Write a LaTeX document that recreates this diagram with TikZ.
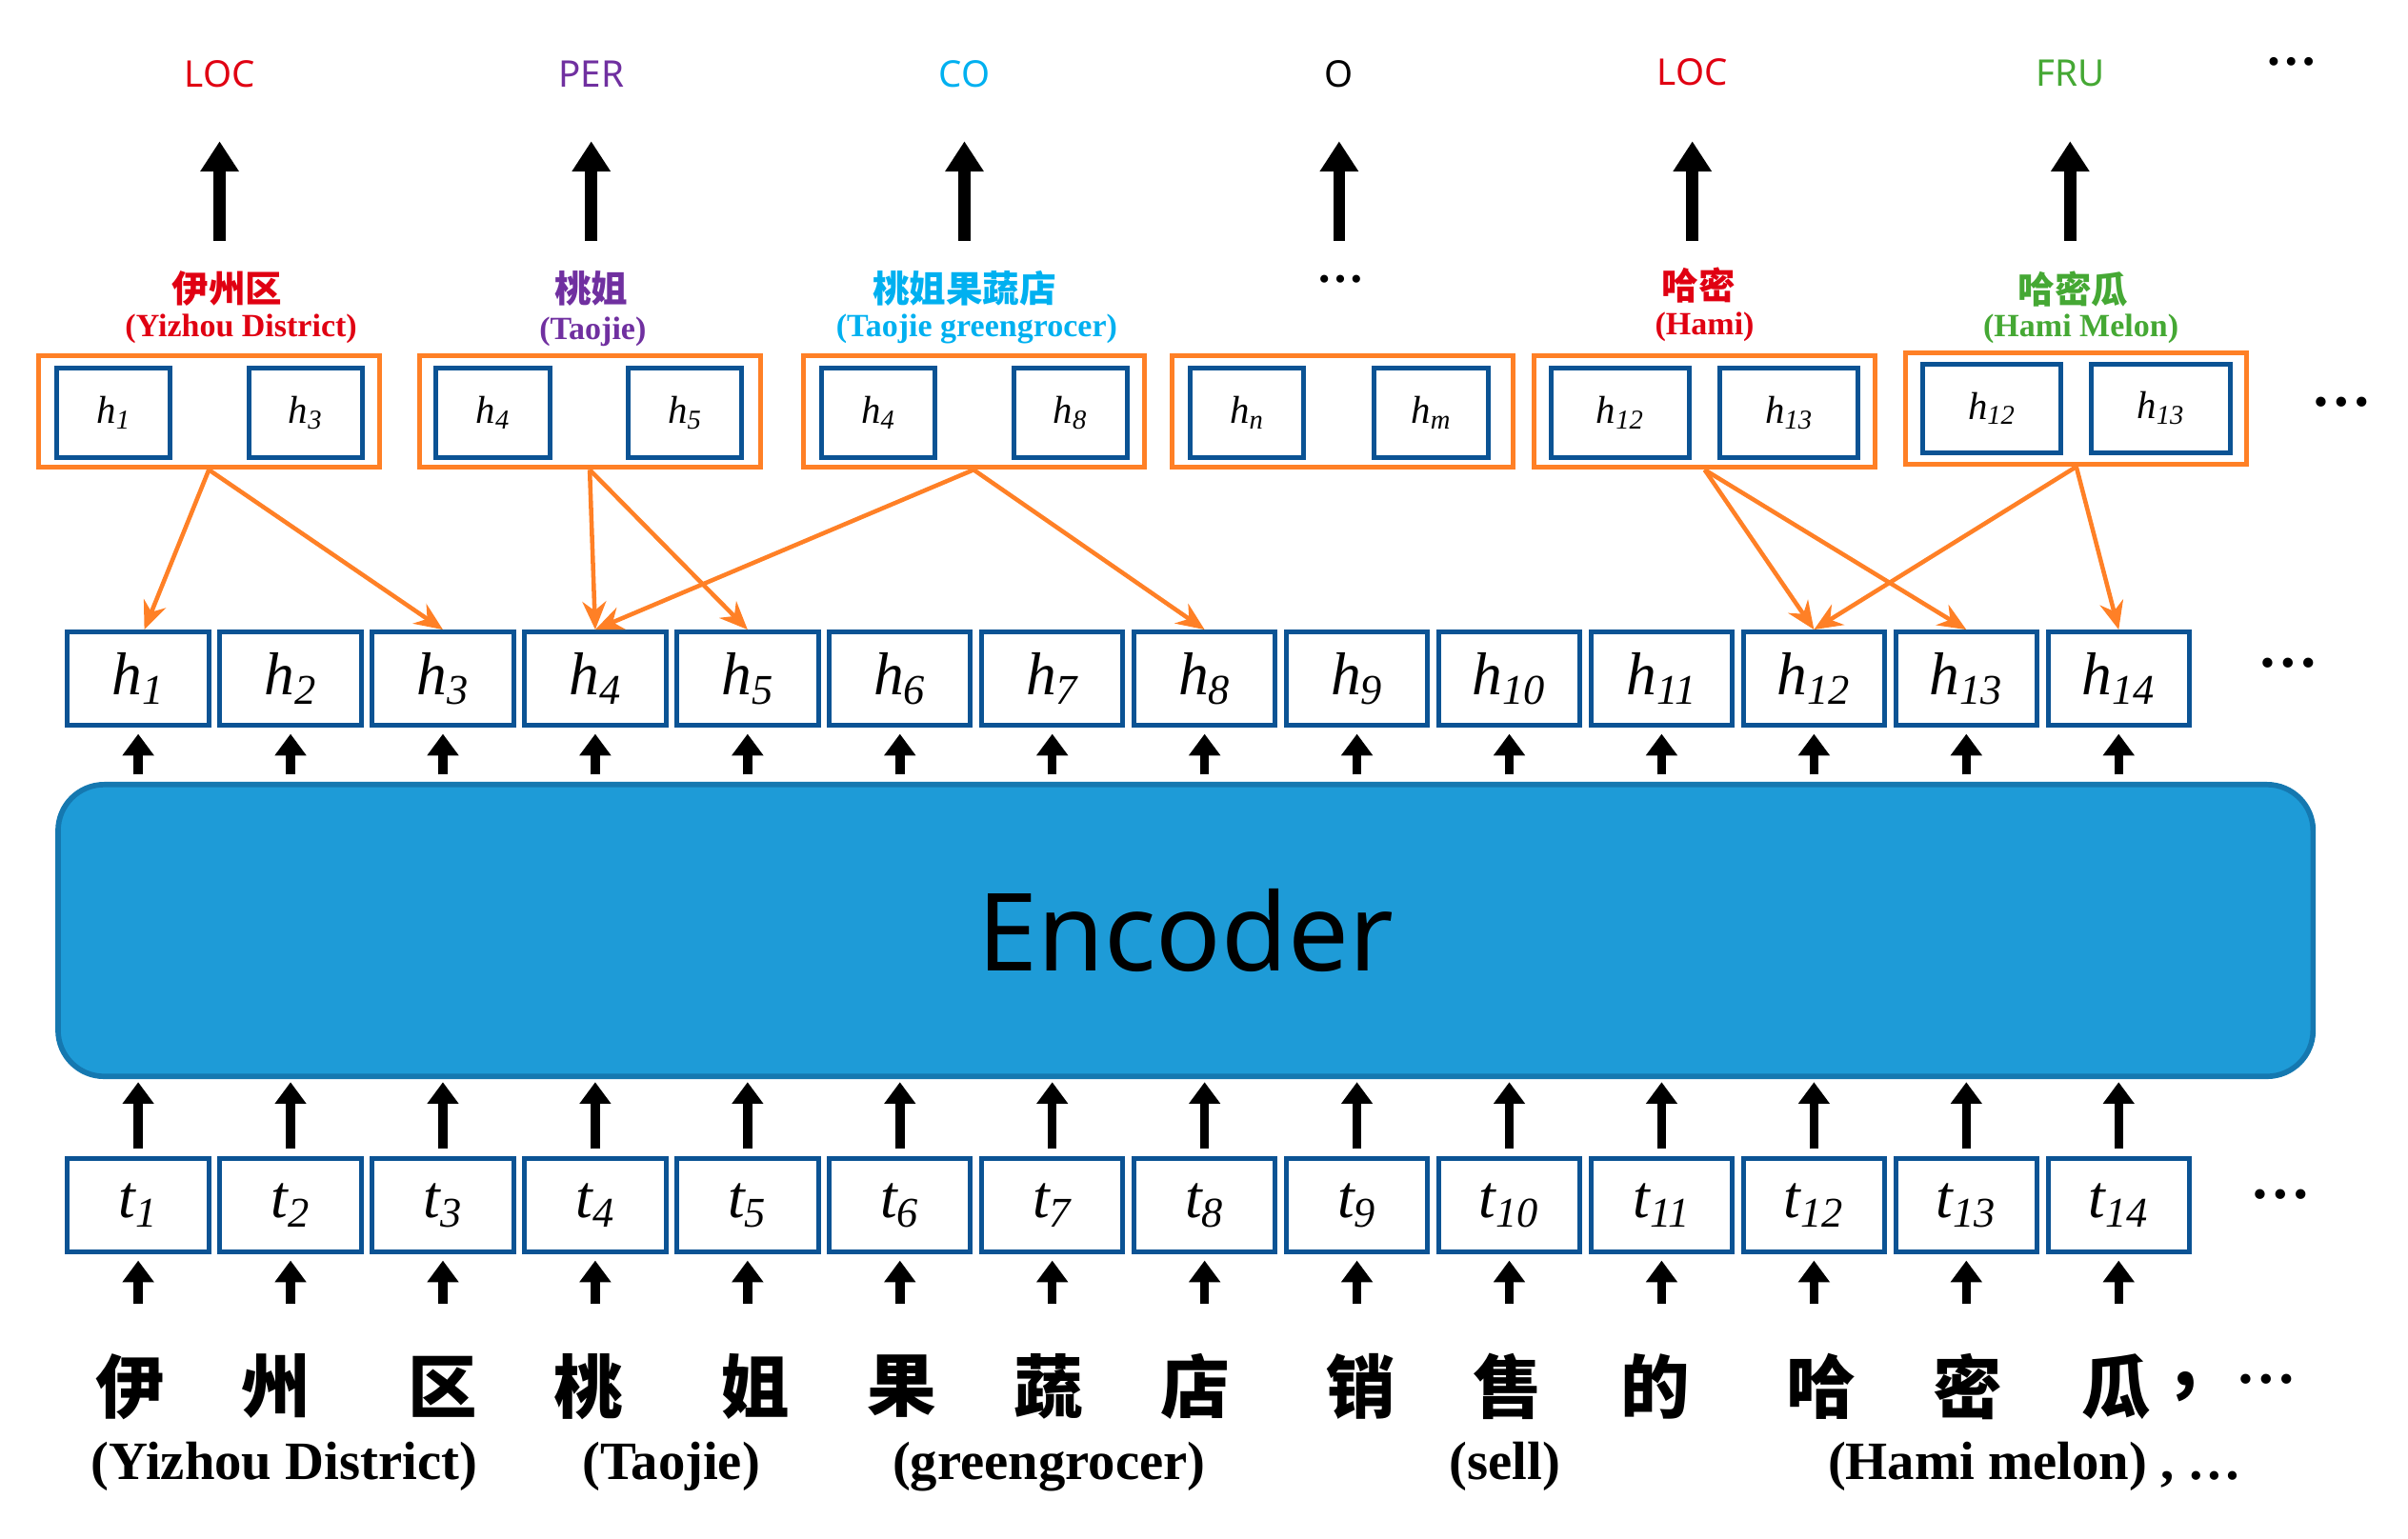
\documentclass[tikz,border=0pt]{standalone}
\usepackage{fontspec}
\setmainfont{Liberation Serif}
\newfontfamily\cjk{Noto Sans CJK SC}
\newfontfamily\lblfont{Noto Sans}
\usetikzlibrary{arrows.meta,positioning}
\definecolor{boxblue}{HTML}{0B5394}
\definecolor{grporange}{HTML}{FF8026}
\definecolor{encblue}{HTML}{1E9BD7}
\definecolor{encedge}{HTML}{1578B0}
\definecolor{locred}{HTML}{E00012}
\definecolor{perpurple}{HTML}{7030A0}
\definecolor{cocyan}{HTML}{00B0F0}
\definecolor{frugreen}{HTML}{45A834}
\tikzset{
  hbox/.style={draw=boxblue,line width=2.2pt,minimum width=2.3cm,minimum height=1.52cm,inner sep=0pt,font=\fontsize{28}{30}\selectfont\itshape},
  ibox/.style={draw=boxblue,line width=2.2pt,minimum height=1.45cm,inner sep=0pt,font=\fontsize{18}{20}\selectfont\itshape},
  grp/.style={draw=grporange,line width=2.2pt,minimum width=5.55cm,minimum height=1.82cm,inner sep=0pt},
  cls/.style={font=\lblfont\fontsize{17}{19}\selectfont},
  zh/.style={font=\cjk\bfseries\fontsize{17}{19}\selectfont},
  en/.style={font=\bfseries\fontsize{15}{17}\selectfont},
  word/.style={font=\cjk\bfseries\fontsize{32}{34}\selectfont},
  gloss/.style={font=\bfseries\fontsize{25}{27}\selectfont},
  bigarrow/.style={line width=5.6pt,-{Triangle[width=17pt,length=14pt]}},
  smallarrow/.style={line width=4.2pt,-{Triangle[width=14pt,length=10pt]}},
  link/.style={grporange,line width=2pt,-{Stealth[length=13pt,width=11pt]}}
}
\begin{document}
\begin{tikzpicture}[x=0.025cm,y=-0.025cm]
\useasboundingbox (0,0) rectangle (1568,1002);
% encoder
\node[draw=encedge,line width=2.5pt,fill=encblue,rounded corners=0.75cm,minimum width=36.7cm,minimum height=4.75cm,
  font=\lblfont\fontsize{50}{52}\selectfont] (enc) at (772,606) {Encoder};
% token and hidden rows
\foreach \i in {1,...,14}{
  \node[hbox] (h\i) at ({90+99.2*(\i-1)},442) {h\textsubscript{\i}};
  \node[hbox] (t\i) at ({90+99.2*(\i-1)},785) {t\textsubscript{\i}};
  \draw[smallarrow,shorten <=1.2mm,shorten >=1mm] (enc.north -| h\i) -- (h\i.south);
  \draw[smallarrow,shorten <=1.2mm,shorten >=0.5mm] (t\i.north) -- (enc.south -| t\i);
  \draw[smallarrow,shorten >=1mm] ([yshift=-0.8cm]t\i.south) -- (t\i.south);
}
\node[font=\fontsize{28}{30}\selectfont] (hdots) at (1490,432) {\textbf{\dots}};
\node[font=\fontsize{28}{30}\selectfont] (tdots) at (1485,778) {\textbf{\dots}};
% input words
\foreach \c/\x in {伊/85,州/180,区/288,桃/383,姐/492,果/587,蔬/683,店/778,销/886,售/982,的/1078,哈/1186,密/1281,瓜/1378}
  \node[word] (w\x) at (\x,903) {\c};
\node[word] (wcomma) at (1423,903) {,};
\node[font=\bfseries\fontsize{28}{30}\selectfont] (wdots) at (1476,898) {\dots};
\node[gloss] (g1) at (185,955) {(Yizhou District)};
\node[gloss] (g2) at (437,955) {(Taojie)};
\node[gloss] (g3) at (683,955) {(greengrocer)};
\node[gloss] (g4) at (980,955) {(sell)};
\node[gloss] (g5) at (1325,955) {(Hami melon) , \dots};
% span groups
\node[grp] (p1) at (136,268) {};
\node[grp] (p2) at (384,268) {};
\node[grp] (p3) at (634,268) {};
\node[grp] (p4) at (874,268) {};
\node[grp] (p5) at (1110,268) {};
\node[grp] (p6) at (1352,266) {};
\node[ibox,minimum width=1.85cm] at (74,269) {h\textsubscript{1}};
\node[ibox,minimum width=1.85cm] at (199,269) {h\textsubscript{3}};
\node[ibox,minimum width=1.85cm] at (321,269) {h\textsubscript{4}};
\node[ibox,minimum width=1.85cm] at (446,269) {h\textsubscript{5}};
\node[ibox,minimum width=1.85cm] at (572,269) {h\textsubscript{4}};
\node[ibox,minimum width=1.85cm] at (697,269) {h\textsubscript{8}};
\node[ibox,minimum width=1.85cm] at (812,269) {h\textsubscript{n}};
\node[ibox,minimum width=1.85cm] at (932,269) {h\textsubscript{m}};
\node[ibox,minimum width=2.25cm] at (1055,269) {h\textsubscript{12}};
\node[ibox,minimum width=2.25cm] at (1165,269) {h\textsubscript{13}};
\node[ibox,minimum width=2.25cm] at (1297,266) {h\textsubscript{12}};
\node[ibox,minimum width=2.25cm] at (1407,266) {h\textsubscript{13}};
\node[font=\fontsize{28}{30}\selectfont] (pdots) at (1525,262) {\textbf{\dots}};
% span labels
\node[zh,locred] (z1) at (148,188) {伊州区};
\node[en,locred] (e1) at (157,214) {(Yizhou District)};
\node[zh,perpurple] (z2) at (385,188) {桃姐};
\node[en,perpurple] (e2) at (386,216) {(Taojie)};
\node[zh,cocyan] (z3) at (628,188) {桃姐果蔬店};
\node[en,cocyan] (e3) at (636,214) {(Taojie greengrocer)};
\node[font=\bfseries\fontsize{22}{24}\selectfont] (z4) at (873,182) {\dots};
\node[zh,locred] (z5) at (1106,186) {哈密};
\node[en,locred] (e5) at (1110,213) {(Hami)};
\node[zh,frugreen] (z6) at (1350,188) {哈密瓜};
\node[en,frugreen] (e6) at (1355,214) {(Hami Melon)};
% classes
\node[cls,locred] (c1) at (143,48) {LOC};
\node[cls,perpurple] (c2) at (385,48) {PER};
\node[cls,cocyan] (c3) at (628,48) {CO};
\node[cls] (c4) at (872,48) {O};
\node[cls,locred] (c5) at (1102,47) {LOC};
\node[cls,frugreen] (c6) at (1348,48) {FRU};
\node[font=\fontsize{24}{26}\selectfont] (cdots) at (1492,40) {\textbf{\dots}};
\foreach \i in {1,...,6}
  \draw[bigarrow] (c\i |- 0,157) -- (c\i |- 0,92);
% links
\draw[link] (p1.south) -- ([xshift=0.1cm]h1.north);
\draw[link] (p1.south) -- (h3.north);
\draw[link] (p2.south) -- (h4.north);
\draw[link] (p2.south) -- (h5.north);
\draw[link] (p3.south) -- (h4.north);
\draw[link] (p3.south) -- (h8.north);
\draw[link] (p5.south) -- (h12.north);
\draw[link] (p5.south) -- (h13.north);
\draw[link] (p6.south) -- (h12.north);
\draw[link] (p6.south) -- (h14.north);
\end{tikzpicture}
\end{document}
